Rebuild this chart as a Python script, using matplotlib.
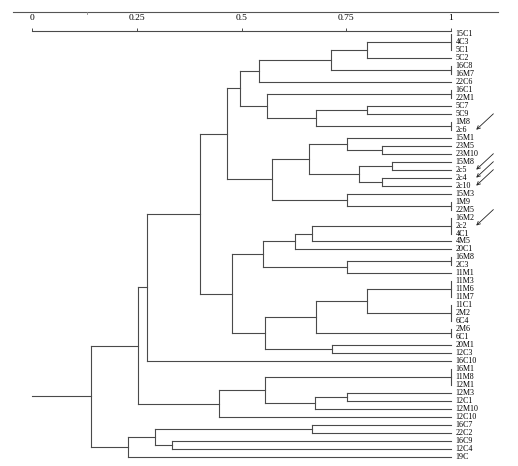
import matplotlib.pyplot as plt

# leaf labels, top to bottom
leaves = ["15C1", "4C3", "5C1", "5C2", "16C8", "16M7", "22C6", "16C1", "22M1",
          "5C7", "5C9", "1M8", "2c6", "15M1", "23M5", "23M10", "15M8", "2c5",
          "2c4", "2c10", "15M3", "1M9", "22M5", "16M2", "2c2", "4C1", "4M5",
          "20C1", "16M8", "2C3", "11M1", "11M3", "11M6", "11M7", "11C1", "2M2",
          "6C4", "2M6", "6C1", "20M1", "12C3", "16C10", "16M1", "11M8", "12M1",
          "12M3", "12C1", "12M10", "12C10", "16C7", "22C2", "16C9", "12C4", "19C"]

# merges: (cluster name, members, similarity)
merges = [
    ("c1", ["15C1", "4C3", "5C1"], 1.00),
    ("c2", ["c1", "5C2"], 0.80),
    ("c3", ["16C8", "16M7"], 1.00),
    ("c4", ["c2", "c3"], 0.713),
    ("c5", ["c4", "22C6"], 0.542),
    ("c6", ["16C1", "22M1"], 1.00),
    ("c7", ["5C7", "5C9"], 0.80),
    ("c8", ["1M8", "2c6"], 1.00),
    ("c9", ["c7", "c8"], 0.677),
    ("c10", ["c6", "c9"], 0.56),
    ("c11", ["c5", "c10"], 0.496),
    ("c12", ["23M5", "23M10"], 0.836),
    ("c13", ["15M1", "c12"], 0.751),
    ("c14", ["15M8", "2c5"], 0.859),
    ("c15", ["2c4", "2c10"], 0.836),
    ("c16", ["c14", "c15"], 0.781),
    ("c17", ["c13", "c16"], 0.662),
    ("c18", ["1M9", "22M5"], 1.00),
    ("c19", ["15M3", "c18"], 0.751),
    ("c20", ["c17", "c19"], 0.572),
    ("c21", ["c11", "c20"], 0.466),
    ("c22", ["16M2", "2c2", "4C1"], 1.00),
    ("c23", ["c22", "4M5"], 0.668),
    ("c24", ["c23", "20C1"], 0.628),
    ("c25", ["16M8", "2C3"], 1.00),
    ("c26", ["c25", "11M1"], 0.751),
    ("c27", ["c24", "c26"], 0.552),
    ("c28", ["11M3", "11M6", "11M7"], 1.00),
    ("c29", ["11C1", "2M2", "6C4"], 1.00),
    ("c30", ["c28", "c29"], 0.80),
    ("c31", ["2M6", "6C1"], 1.00),
    ("c32", ["c30", "c31"], 0.677),
    ("c33", ["20M1", "12C3"], 0.716),
    ("c34", ["c32", "c33"], 0.555),
    ("c35", ["c27", "c34"], 0.478),
    ("c36", ["c21", "c35"], 0.401),
    ("c37", ["c36", "16C10"], 0.273),
    ("c38", ["16M1", "11M8", "12M1"], 1.00),
    ("c39", ["12M3", "12C1"], 0.751),
    ("c40", ["c39", "12M10"], 0.676),
    ("c41", ["c38", "c40"], 0.556),
    ("c42", ["c41", "12C10"], 0.446),
    ("c43", ["c37", "c42"], 0.253),
    ("c44", ["16C7", "22C2"], 0.668),
    ("c45", ["16C9", "12C4"], 0.334),
    ("c46", ["c44", "c45"], 0.293),
    ("c47", ["c46", "19C"], 0.229),
    ("root", ["c43", "c47"], 0.140),
]

# labels marked with an arrow
arrowed = ["2c6", "2c5", "2c4", "2c10", "2c2"]

scale_ticks = [0, 0.25, 0.5, 0.75, 1]
scale_labels = ["0", "0.25", "0.5", "0.75", "1"]

line_col = "#4a4a4a"
serif = "Liberation Serif"

fig = plt.figure(figsize=(5.18, 4.66), dpi=100)
ax = fig.add_axes([0, 0, 1, 1 - 31 / 466])

# pixel layout: x=0 at 32.3px, x=1 at 450.7px; leaf i at 34 + 7.98*i px
ax.set_xlim(-32.3 / 418.4, (518 - 32.3) / 418.4)
ax.set_ylim((466 - 34) / 7.98, (31 - 34) / 7.98)

pos = {}
for i, name in enumerate(leaves):
    pos[name] = (1.0, i)

for name, kids, h in merges:
    ys = [pos[k][1] for k in kids]
    ax.plot([h, h], [min(ys), max(ys)], color=line_col, lw=0.8)
    for k in kids:
        kx, ky = pos[k]
        if kx != h:
            ax.plot([h, kx], [ky, ky], color=line_col, lw=0.8)
    pos[name] = (h, (min(ys) + max(ys)) / 2)

# root stem
rx, ry = pos["root"]
ax.plot([0, rx], [ry, ry], color=line_col, lw=0.8)

for i, name in enumerate(leaves):
    ax.text(1.012, i, name, fontsize=5.8, family=serif, va="center", ha="left")

for name in arrowed:
    i = leaves.index(name)
    ax.annotate("", xy=(1.061, i), xytext=(1.102, i - 2.0),
                arrowprops=dict(arrowstyle="->", lw=0.6, color="#222222",
                                shrinkA=0, shrinkB=0, mutation_scale=6))

# scale along the top
for s in ["left", "right", "bottom"]:
    ax.spines[s].set_visible(False)
ax.spines["top"].set_bounds(0, 1)
ax.spines["top"].set_color(line_col)
ax.spines["top"].set_linewidth(0.8)
ax.xaxis.tick_top()
ax.set_xticks(scale_ticks)
ax.set_xticklabels(scale_labels, fontsize=6.8, family=serif)
ax.tick_params(axis="x", direction="out", length=2.5, width=0.7,
               color=line_col, pad=4)
ax.set_yticks([])

# thin rule at the very top
ax.plot([-0.046, 1.113], [-2.8, -2.8], color="#555555", lw=0.8, clip_on=False)
ax.plot([0.131, 0.131], [-2.8, -2.55], color="#888888", lw=0.6, clip_on=False)

fig.savefig("out.png", dpi=100)
